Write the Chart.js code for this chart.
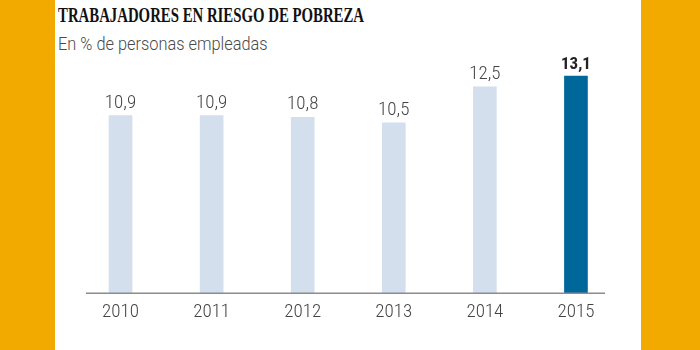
<!DOCTYPE html>
<html><head><meta charset="utf-8">
<script src="https://cdn.jsdelivr.net/npm/chart.js@4"></script>
<style>
html,body{margin:0;padding:0;}
body{width:700px;height:350px;background:#F2A900;position:relative;overflow:hidden;}
#panel{position:absolute;left:55px;top:0;width:586px;height:350px;background:#fff;}
#title{position:absolute;left:58px;top:3px;font-family:'Liberation Serif',serif;font-weight:bold;font-size:21px;color:#111;white-space:nowrap;transform-origin:0 0;}
#sub{position:absolute;left:58px;top:33px;font-family:Roboto,sans-serif;font-weight:300;font-size:18px;color:#4a4a4a;white-space:nowrap;transform-origin:0 0;}
#wrap{position:absolute;left:0;top:0;width:700px;height:350px;}
</style></head>
<body>
<div id="panel"></div>
<div id="title">TRABAJADORES EN RIESGO DE POBREZA</div>
<div id="sub">En % de personas empleadas</div>
<div id="wrap"><canvas id="c" width="700" height="350"></canvas></div>
<script>
const years = ['2010', '2011', '2012', '2013', '2014', '2015'];
const values = [10.9, 10.9, 10.8, 10.5, 12.5, 13.1];
const valueLabels = ['10,9', '10,9', '10,8', '10,5', '12,5', '13,1'];

function fitWidth(id, target) {
  const el = document.getElementById(id);
  el.style.transform = 'scaleX(' + (target / el.offsetWidth) + ')';
}
fitWidth('title', 306);
fitWidth('sub', 210);

const axisLine = {
  id: 'axisLine',
  afterDatasetsDraw(chart) {
    const c = chart.ctx, y = chart.chartArea.bottom;
    c.save();
    c.strokeStyle = '#8c8c8c';
    c.lineWidth = 1.5;
    c.beginPath();
    c.moveTo(86, y);
    c.lineTo(605, y);
    c.stroke();
    c.restore();
  }
};
const barLabels = {
  id: 'barLabels',
  afterDatasetsDraw(chart) {
    const c = chart.ctx;
    const meta = chart.getDatasetMeta(0);
    c.save();
    c.textAlign = 'center';
    c.textBaseline = 'alphabetic';
    meta.data.forEach((bar, i) => {
      const last = i === values.length - 1;
      c.font = last ? 'bold 17px "Roboto Condensed", Roboto' : '300 19px "Roboto Condensed", Roboto';
      c.fillStyle = last ? '#222' : '#444';
      c.fillText(valueLabels[i], bar.x, bar.y - (last ? 7 : 8));
    });
    c.restore();
  }
};

new Chart(document.getElementById('c'), {
  type: 'bar',
  data: {
    labels: years,
    datasets: [{
      data: values,
      backgroundColor: values.map((v, i) => i === values.length - 1 ? '#00679A' : '#D3DFED'),
      barThickness: 23,
      borderWidth: 0
    }]
  },
  options: {
    responsive: false,
    animation: false,
    devicePixelRatio: 1,
    layout: { padding: { left: 75, right: 78.5, top: 60, bottom: 18 } },
    plugins: { legend: { display: false }, tooltip: { enabled: false } },
    scales: {
      x: {
        grid: { display: false, drawTicks: false },
        border: { display: false },
        ticks: { padding: 8, color: '#444', font: { family: '"Roboto Condensed", Roboto', size: 19, weight: '300' } }
      },
      y: { display: false, min: 1, max: 14 }
    }
  },
  plugins: [axisLine, barLabels]
});
</script>
</body></html>
